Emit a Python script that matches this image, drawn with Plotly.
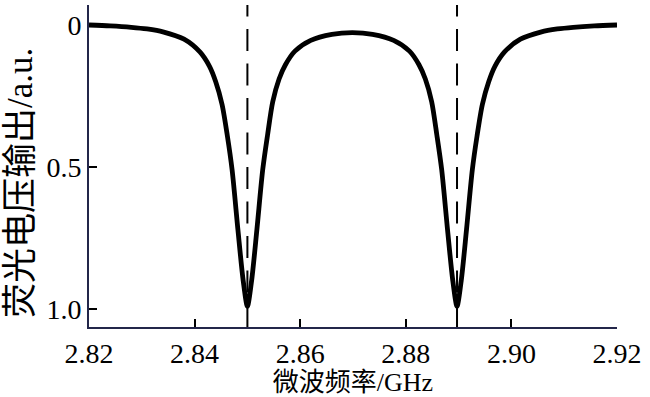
import plotly.graph_objects as go

# Microwave frequency (GHz) and fluorescence voltage output (a.u.)
freq = [2.8200, 2.8240, 2.8280, 2.8310, 2.8340, 2.8380, 2.8410, 2.8428, 2.8440,
        2.8452, 2.8462, 2.8471, 2.8482, 2.8492, 2.8500, 2.8508, 2.8518, 2.8529,
        2.8538, 2.8548, 2.8560, 2.8572, 2.8590, 2.8620, 2.8660, 2.8699, 2.8737,
        2.8777, 2.8807, 2.8825, 2.8837, 2.8849, 2.8859, 2.8868, 2.8879, 2.8889,
        2.8897, 2.8905, 2.8915, 2.8926, 2.8935, 2.8945, 2.8957, 2.8969, 2.8987,
        2.9017, 2.9057, 2.9087, 2.9117, 2.9157, 2.9200]
signal = [0.000, 0.003, 0.008, 0.014, 0.024, 0.050, 0.095, 0.145, 0.200,
          0.280, 0.390, 0.510, 0.720, 0.900, 0.990, 0.900, 0.720, 0.510,
          0.390, 0.270, 0.190, 0.140, 0.092, 0.054, 0.033, 0.027, 0.033,
          0.054, 0.092, 0.140, 0.190, 0.270, 0.390, 0.510, 0.720, 0.900,
          0.990, 0.900, 0.720, 0.510, 0.390, 0.280, 0.200, 0.145, 0.095,
          0.050, 0.024, 0.014, 0.008, 0.003, 0.000]

dip_centers = [2.8500, 2.8897]

x_ticks = [2.82, 2.84, 2.86, 2.88, 2.90, 2.92]
x_tick_text = ["2.82", "2.84", "2.86", "2.88", "2.90", "2.92"]
y_ticks = [0, 0.5, 1.0]
y_tick_text = ["0", "0.5", "1.0"]

x_title = "微波频率/GHz"
y_title = "荧光电压输出/a.u."

FONT = "Liberation Serif, Noto Sans CJK SC, serif"
AXIS_COLOR = "#23264a"
H = 397
T, B = 5, 70

fig = go.Figure()
fig.add_trace(go.Scatter(
    x=freq, y=signal, mode="lines",
    line=dict(color="black", width=4.8, shape="spline", smoothing=0.8),
    showlegend=False, hoverinfo="skip",
))

for xc in dip_centers:
    fig.add_shape(type="line", xref="x", yref="paper", x0=xc, x1=xc, y0=0, y1=1,
                  line=dict(color="black", width=2, dash="22px,12.5px"))

# y-axis title as a rotated annotation, centred ~183 px from the top
fig.add_annotation(
    text=y_title, textangle=-90, xref="paper", yref="paper",
    x=0, y=1 - (183 - T) / (H - T - B), xanchor="center", yanchor="middle",
    xshift=-69, showarrow=False, font=dict(size=35, family=FONT, color="black"),
)

fig.update_layout(
    width=650, height=H,
    margin=dict(l=89, r=33, t=T, b=B),
    paper_bgcolor="white", plot_bgcolor="white",
    font=dict(family=FONT, size=27, color="black"),
    xaxis=dict(
        range=[2.82, 2.92], tickvals=x_ticks, ticktext=x_tick_text,
        ticks="inside", ticklen=8, tickwidth=1.5, tickcolor="black",
        showline=True, linecolor=AXIS_COLOR, linewidth=2,
        showgrid=False, zeroline=False, automargin=False,
        title=dict(text=x_title, standoff=2, font=dict(size=26, family=FONT)),
        tickfont=dict(size=28, family=FONT),
    ),
    yaxis=dict(
        range=[1.0634, -0.0704], tickvals=y_ticks, ticktext=y_tick_text,
        ticks="inside", ticklen=8, tickwidth=1.5, tickcolor="black",
        showline=True, linecolor=AXIS_COLOR, linewidth=2,
        showgrid=False, zeroline=False, automargin=False,
        tickfont=dict(size=28, family=FONT),
    ),
)

fig.write_html("out.html", config={"displayModeBar": False},
               post_script="document.body.style.margin='0';document.body.style.overflow='hidden';")
